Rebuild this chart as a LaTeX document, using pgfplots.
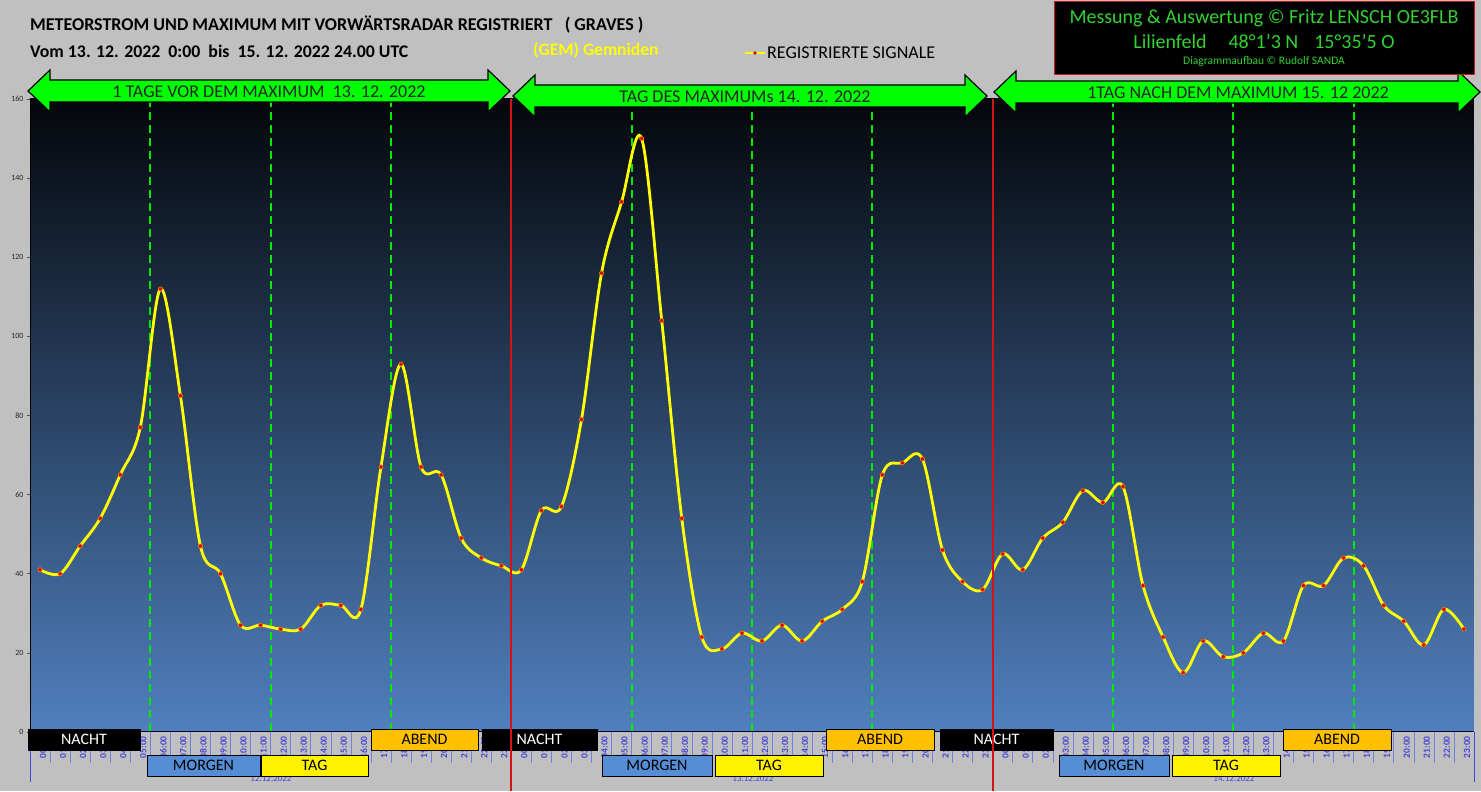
\documentclass[border=0pt]{standalone}
\usepackage{pgfplots}
\pgfplotsset{compat=1.18}
\usepackage{pgfplotstable}
\usepackage{fontspec}
\setmainfont{Carlito}

\definecolor{bgc}{RGB}{192,192,192}
\definecolor{topc}{RGB}{4,6,10}
\definecolor{botc}{RGB}{80,128,190}
\definecolor{arrowgreen}{RGB}{0,255,0}
\definecolor{dashgreen}{RGB}{0,235,0}
\definecolor{infogreen}{RGB}{50,210,50}
\definecolor{redline}{RGB}{210,20,20}
\definecolor{labblue}{RGB}{70,70,215}
\definecolor{sepblue}{RGB}{110,130,230}
\definecolor{morgenc}{RGB}{85,142,213}
\definecolor{abendc}{RGB}{255,192,0}
\definecolor{gemyellow}{RGB}{255,255,0}

\pgfplotstableread{
x y
0 41
1 40
2 47
3 54
4 65
5 77
6 112
7 85
8 47
9 40
10 27
11 27
12 26
13 26
14 32
15 32
16 31
17 67
18 93
19 67
20 65
21 49
22 44
23 42
24 41
25 56
26 57
27 79
28 116
29 134
30 150
31 104
32 54
33 24
34 21
35 25
36 23
37 27
38 23
39 28
40 31
41 38
42 65
43 68
44 69
45 46
46 38
47 36
48 45
49 41
50 49
51 53
52 61
53 58
54 62
55 37
56 24
57 15
58 23
59 19
60 20
61 25
62 23
63 37
64 37
65 44
66 42
67 32
68 28
69 22
70 31
71 26
}\signals

\newcommand{\dblarrow}[3]{%
  \filldraw[fill=arrowgreen, draw=black, line width=1.2pt, line join=miter]
    (#1,791-#3) -- (#1+22,791-#3+21) -- (#1+22,791-#3+11) -- (#2-22,791-#3+11)
    -- (#2-22,791-#3+21) -- (#2,791-#3) -- (#2-22,791-#3-21) -- (#2-22,791-#3-11)
    -- (#1+22,791-#3-11) -- (#1+22,791-#3-21) -- cycle;}

\newcommand{\mkband}[7]{%
  \filldraw[fill=#5, draw=black, line width=0.8pt] (#1,791-#3) rectangle (#2,791-#4);
  \node[font=\fontsize{16}{18}\selectfont, text=#6] at ({(#1+#2)/2},{791-(#3+#4)/2}) {#7};}

\begin{document}
\begin{tikzpicture}[x=1pt,y=1pt]
\fill[bgc] (0,0) rectangle (1481,791);

% separators below the category axis
\foreach \i in {0,...,72} {
  \draw[sepblue, line width=0.6pt] ({30+\i*20.0556},59) -- ({30+\i*20.0556},28);
}
\draw[labblue, line width=0.8pt] (30,59) -- (30,9);
\draw[labblue, line width=0.8pt] (1474,59) -- (1474,9);

\begin{axis}[
  at={(30pt,59pt)}, anchor=south west,
  scale only axis, width=1444pt, height=633pt,
  xmin=-0.5, xmax=71.5, ymin=0, ymax=160,
  clip=false,
  axis background/.style={shade, top color=topc, bottom color=botc},
  axis lines=left,
  x axis line style={draw=black!80!blue, line width=1pt, -},
  y axis line style={draw=black, line width=0.8pt, -},
  ytick={0,20,...,160},
  yticklabel style={font=\fontsize{8}{9}\selectfont, text=black!85},
  /pgf/number format/assume math mode=true,
  ytick style={draw=black!70, line width=0.5pt},
  tick align=outside, major tick length=3pt,
  xtick={0,...,71},
  xtick style={draw=none},
  xticklabels={00:00,01:00,02:00,03:00,04:00,05:00,06:00,07:00,08:00,09:00,10:00,11:00,12:00,13:00,14:00,15:00,16:00,17:00,18:00,19:00,20:00,21:00,22:00,23:00,00:00,01:00,02:00,03:00,04:00,05:00,06:00,07:00,08:00,09:00,10:00,11:00,12:00,13:00,14:00,15:00,16:00,17:00,18:00,19:00,20:00,21:00,22:00,23:00,00:00,01:00,02:00,03:00,04:00,05:00,06:00,07:00,08:00,09:00,10:00,11:00,12:00,13:00,14:00,15:00,16:00,17:00,18:00,19:00,20:00,21:00,22:00,23:00},
  xticklabel style={rotate=90, anchor=east, font=\fontsize{9.5}{10}\selectfont\bfseries, text=labblue, inner sep=1pt, xshift=0pt, yshift=-3pt},
]
\pgfplotsinvokeforeach{5.5,11.5,17.5,29.5,35.5,41.5,53.5,59.5,65.5}{
  \draw[dashgreen, line width=1.8pt, dash pattern=on 8pt off 5pt] (axis cs:#1,160) -- (axis cs:#1,-1);
}
\addplot[smooth, tension=0.55, color=gemyellow, line width=2.8pt,
  mark=*, mark size=2.1pt, mark options={fill=red!85!black, draw=orange, line width=0.6pt}]
  table[x=x, y=y] {\signals};
\end{axis}

% date labels (mostly hidden)
\node[font=\fontsize{9}{10}\selectfont, text=labblue] at (271,12) {12.12.2022};
\node[font=\fontsize{9}{10}\selectfont, text=labblue] at (753,12) {13.12.2022};
\node[font=\fontsize{9}{10}\selectfont, text=labblue] at (1234,12) {14.12.2022};

% bands
\mkband{28}{140}{729}{750}{black}{white}{NACHT}
\mkband{147}{260}{755}{776}{morgenc}{black}{MORGEN}
\mkband{261}{368}{755}{776}{yellow}{black}{TAG}
\mkband{371}{478}{729}{750}{abendc}{black}{ABEND}
\mkband{482}{597}{729}{750}{black}{white}{NACHT}
\mkband{602}{712}{755}{776}{morgenc}{black}{MORGEN}
\mkband{715}{823}{755}{776}{yellow}{black}{TAG}
\mkband{826}{934}{729}{750}{abendc}{black}{ABEND}
\mkband{940}{1053}{729}{750}{black}{white}{NACHT}
\mkband{1059}{1169}{755}{776}{morgenc}{black}{MORGEN}
\mkband{1172}{1280}{755}{776}{yellow}{black}{TAG}
\mkband{1283}{1391}{729}{750}{abendc}{black}{ABEND}

% red day separators
\draw[redline, line width=1.8pt] (511.3,692) -- (511.3,0);
\draw[redline, line width=1.8pt] (992.7,692) -- (992.7,0);

% arrows
\dblarrow{28}{510}{91}
\dblarrow{513}{987}{96}
\dblarrow{994}{1480}{92}
\node[font=\fontsize{18}{20}\selectfont, text=black!85] at (269,791-92) {1 TAGE VOR DEM MAXIMUM\ \ 13. 12. 2022};
\node[font=\fontsize{18}{20}\selectfont, text=black!85] at (745,791-97) {TAG DES MAXIMUMs 14. 12. 2022};
\node[font=\fontsize{18}{20}\selectfont, text=black!85] at (1238,791-93) {1TAG NACH DEM MAXIMUM 15. 12 2022};

% titles
\node[anchor=west, font=\fontsize{18}{20}\selectfont\bfseries, inner sep=0pt] at (30,791-25)
  {METEORSTROM UND MAXIMUM MIT VORWÄRTSRADAR REGISTRIERT\ \ \ ( GRAVES )};
\node[anchor=west, font=\fontsize{17.8}{20}\selectfont\bfseries, inner sep=0pt] at (30,791-51)
  {Vom 13. 12. 2022\ \ 0:00\ \ bis\ \ 15. 12. 2022 24.00 UTC};
\node[anchor=west, font=\fontsize{17.5}{19}\selectfont\bfseries, text=gemyellow, inner sep=0pt] at (533,791-50)
  {(GEM) Gemniden};

% legend
\draw[gemyellow, line width=2.8pt] (745,791-53) -- (765,791-53);
\fill[red!85!black] (755,791-53) circle (1.8pt);
\node[anchor=west, font=\fontsize{18}{20}\selectfont, inner sep=0pt] at (767,791-53) {REGISTRIERTE SIGNALE};

% info box
\filldraw[fill=black, draw=redline, line width=1pt] (1054,791-2) rectangle (1474,791-75);
\node[font=\fontsize{20}{22}\selectfont, text=infogreen] at (1264,791-18) {Messung \& Auswertung © Fritz LENSCH OE3FLB};
\node[font=\fontsize{20}{22}\selectfont, text=infogreen] at (1264,791-42) {Lilienfeld\hspace{1.1em}48°1'3 N\hspace{0.8em}15°35'5 O};
\node[font=\fontsize{11.5}{13}\selectfont, text=infogreen] at (1264,791-61) {Diagrammaufbau © Rudolf SANDA};
\end{tikzpicture}
\end{document}
